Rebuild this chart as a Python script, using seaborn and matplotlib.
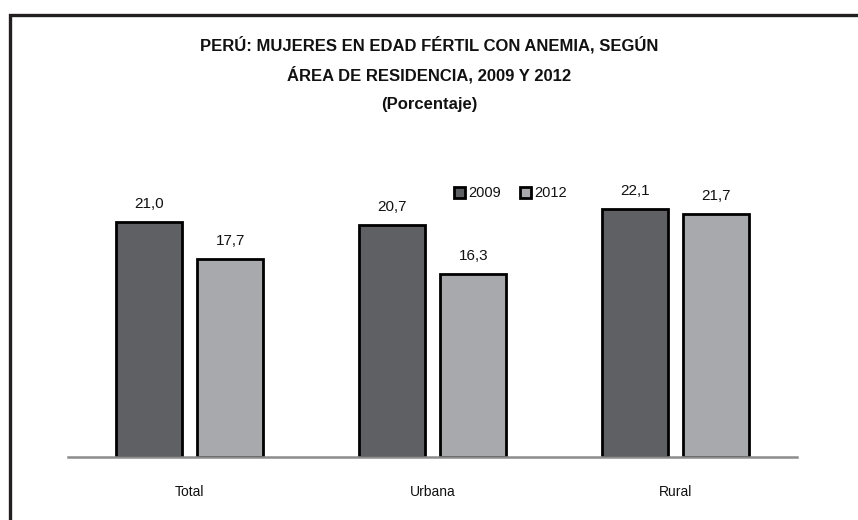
import pandas as pd
import numpy as np
import matplotlib.pyplot as plt
import seaborn as sns
from matplotlib.patches import Rectangle

areas = ["Total", "Urbana", "Rural"]
years = ["2009", "2012"]
v2009 = [21.0, 20.7, 22.1]
v2012 = [17.7, 16.3, 21.7]

df = pd.DataFrame({
    "Area": areas * 2,
    "Año": ["2009"] * 3 + ["2012"] * 3,
    "Valor": v2009 + v2012,
})

sns.set_style("white")
plt.rcParams["font.family"] = ["Liberation Sans Narrow", "Liberation Sans", "DejaVu Sans"]
plt.rcParams["text.color"] = "#111111"
plt.rcParams["xtick.color"] = "#111111"

fig = plt.figure(figsize=(8.58, 5.2), dpi=100)
ax = fig.add_axes([68 / 858, 1 - 457 / 520, (797 - 68) / 858, (457 - 177) / 520])

sns.barplot(data=df, x="Area", y="Valor", hue="Año", hue_order=years,
            palette=["#5f6064", "#a8a9ad"], width=0.67, gap=0.195,
            edgecolor="black", linewidth=2.0, saturation=1, ax=ax)

for cont in ax.containers:
    ax.bar_label(cont, labels=[f"{b.get_height():.1f}".replace(".", ",") for b in cont],
                 padding=8, fontsize=11)

ax.set_xlim(-0.5, 2.5)
ax.set_ylim(0, 25)
ax.set_xlabel("")
ax.set_ylabel("")
ax.set_yticks([])
ax.tick_params(axis="x", length=0, pad=20, labelsize=10)
for s in ["top", "right", "left"]:
    ax.spines[s].set_visible(False)
ax.spines["bottom"].set_color("#8c8c8c")
ax.spines["bottom"].set_linewidth(1.8)

leg = ax.legend(loc="upper left", bbox_to_anchor=(0.512, 1.013), ncol=2, frameon=False,
                fontsize=10.5, handlelength=0.75, handleheight=0.75, handletextpad=0.2,
                columnspacing=1.3)

fig.text(0.5, 1 - 45 / 520, "PERÚ: MUJERES EN EDAD FÉRTIL CON ANEMIA, SEGÚN",
         ha="center", va="center", fontsize=12, fontweight="bold")
fig.text(0.5, 1 - 75 / 520, "ÁREA DE RESIDENCIA, 2009 Y 2012",
         ha="center", va="center", fontsize=12, fontweight="bold")
fig.text(0.5, 1 - 104 / 520, "(Porcentaje)",
         ha="center", va="center", fontsize=12, fontweight="bold")

fig.patches.append(Rectangle((9.5 / 858, -0.2), 1.2, 1 - 15 / 520 + 0.2,
                             transform=fig.transFigure, fill=False,
                             edgecolor="#231f20", linewidth=2.4, clip_on=False))

fig.savefig("out.png", dpi=100)
